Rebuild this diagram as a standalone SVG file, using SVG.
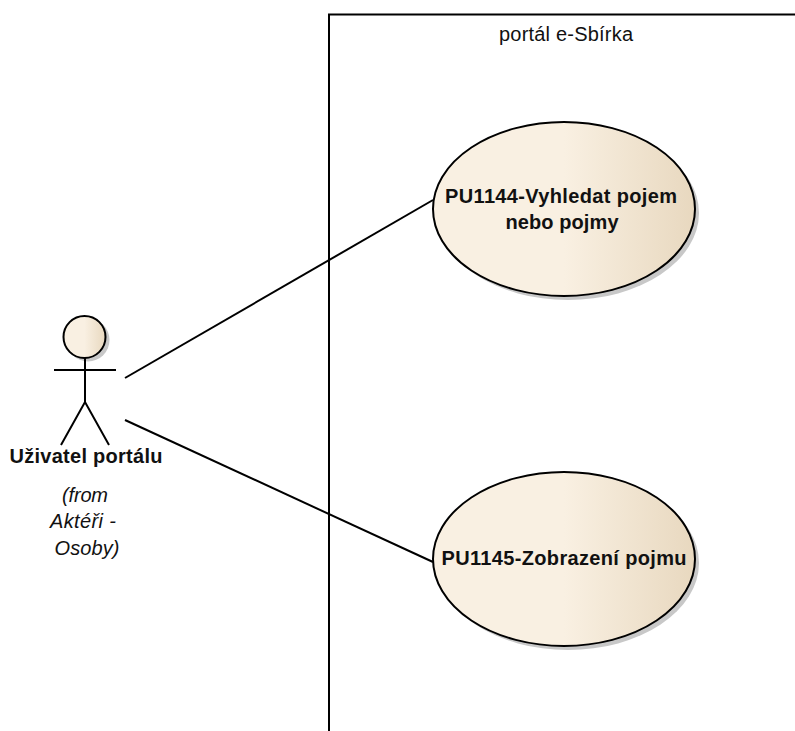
<svg xmlns="http://www.w3.org/2000/svg" width="795" height="731" viewBox="0 0 795 731">
  <style>
    text { font-family: "Liberation Sans", Arial, sans-serif; font-size: 20px; fill: #111; text-anchor: middle; }
    .b { font-weight: bold; }
    .i { font-style: italic; }
    .ln { fill: none; stroke: #000; stroke-width: 2; }
    .shape { fill: url(#g); stroke: #000; stroke-width: 2; }
    .sh { fill: #c8c8c8; stroke: none; }
  </style>
  <defs>
    <linearGradient id="g" x1="0" y1="0" x2="1" y2="0">
      <stop offset="0" stop-color="#f9f0e2"/>
      <stop offset="0.5" stop-color="#f9f0e2"/>
      <stop offset="1" stop-color="#e8d8bf"/>
    </linearGradient>
  </defs>
  <rect width="795" height="731" fill="#fff"/>
  <g id="boundary">
    <path class="ln" d="M329 731V14.500H795"/>
    <text x="566" y="41" textLength="134" lengthAdjust="spacing">portál e-Sbírka</text>
  </g>
  <g id="connectors">
    <line class="ln" x1="125" y1="378" x2="433" y2="200"/>
    <line class="ln" x1="125" y1="420" x2="433" y2="562"/>
  </g>
  <g id="actor">
    <circle class="sh" cx="88" cy="340" r="21.500"/>
    <circle class="shape" cx="84.500" cy="337" r="21"/>
    <path class="ln" d="M54 370H116M85 358V402M61 445L85 402L109 445"/>
    <text class="b" x="86" y="463" textLength="153" lengthAdjust="spacing">Uživatel portálu</text>
    <text class="i" x="85" y="502" textLength="46" lengthAdjust="spacing">(from</text>
    <text class="i" x="83" y="528" textLength="66" lengthAdjust="spacing">Aktéři -</text>
    <text class="i" x="87" y="555" textLength="65" lengthAdjust="spacing">Osoby)</text>
  </g>
  <g id="pu1144">
    <ellipse class="sh" cx="568" cy="213" rx="131" ry="87"/>
    <ellipse class="shape" cx="564" cy="209" rx="131" ry="87"/>
    <text class="b" x="561" y="203" textLength="232" lengthAdjust="spacing">PU1144-Vyhledat pojem</text>
    <text class="b" x="562" y="229" textLength="113" lengthAdjust="spacing">nebo pojmy</text>
  </g>
  <g id="pu1145">
    <ellipse class="sh" cx="568" cy="563" rx="131" ry="87"/>
    <ellipse class="shape" cx="564" cy="559" rx="131" ry="87"/>
    <text class="b" x="564" y="565" textLength="245" lengthAdjust="spacing">PU1145-Zobrazení pojmu</text>
  </g>
</svg>
